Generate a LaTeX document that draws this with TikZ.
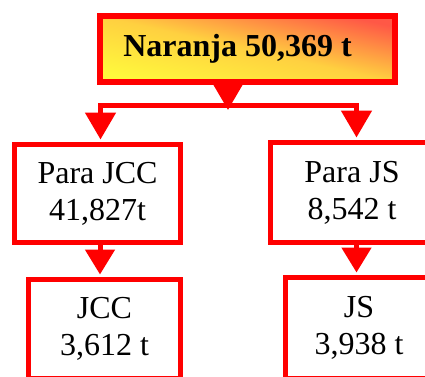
\documentclass[tikz,border=0pt]{standalone}
\usepackage{fontspec}
\setmainfont{Liberation Serif}
\usetikzlibrary{arrows.meta}
\definecolor{gtop}{RGB}{255,88,70}
\definecolor{gmid}{RGB}{255,208,64}
\definecolor{gbot}{RGB}{255,248,60}
\begin{document}
\begin{tikzpicture}[x=1pt,y=-1pt,
  box/.style={draw=red, line width=5pt, fill=white, inner sep=0pt, align=center,
    font=\fontsize{32}{37}\selectfont},
  conn/.style={draw=red, line width=5pt, line join=miter, -{Triangle[length=27pt,width=30pt]}},
  shortconn/.style={draw=red, line width=5pt, -{Triangle[length=25pt,width=29pt]}}]
\useasboundingbox (0,0) rectangle (425,376);
\clip (0,0) rectangle (425,376);
\node[box, line width=6pt, minimum width=295pt, minimum height=66pt,
  font=\bfseries\fontsize{32}{37}\selectfont,
  shade, top color=gtop, bottom color=gbot, middle color=gmid, shading angle=-12.6] (top) at (247.5,49) {Naranja 50,369 t\hspace*{20pt}};
\node[box, minimum width=166pt, minimum height=98pt] (pjcc) at (97.5,193.5) {Para JCC\\41,827t};
\node[box, minimum width=163pt, minimum height=100pt] (pjs) at (352,192.5) {Para JS\\8,542 t};
\node[box, minimum width=152pt, minimum height=99pt] (jcc) at (104.5,329) {JCC\\3,612 t};
\node[box, minimum width=147pt, minimum height=101pt] (js) at (359,328) {JS\\3,938 t};
\coordinate (tip0) at (228,110);
\coordinate (split) at (228,105.5);
\draw[conn] (top.south -| tip0) -- (tip0);
\draw[conn] (split) -| ([xshift=3pt,yshift=2.5pt]pjcc.north);
\draw[conn] (split) -| ([xshift=4.5pt,yshift=2.5pt]pjs.north);
\draw[shortconn] ([xshift=2.5pt]pjcc.south) -- ([xshift=-4.5pt,yshift=2.5pt]jcc.north);
\draw[shortconn] ([xshift=4.5pt]pjs.south) -- ([xshift=-2.5pt,yshift=2.5pt]js.north);
\end{tikzpicture}
\end{document}
